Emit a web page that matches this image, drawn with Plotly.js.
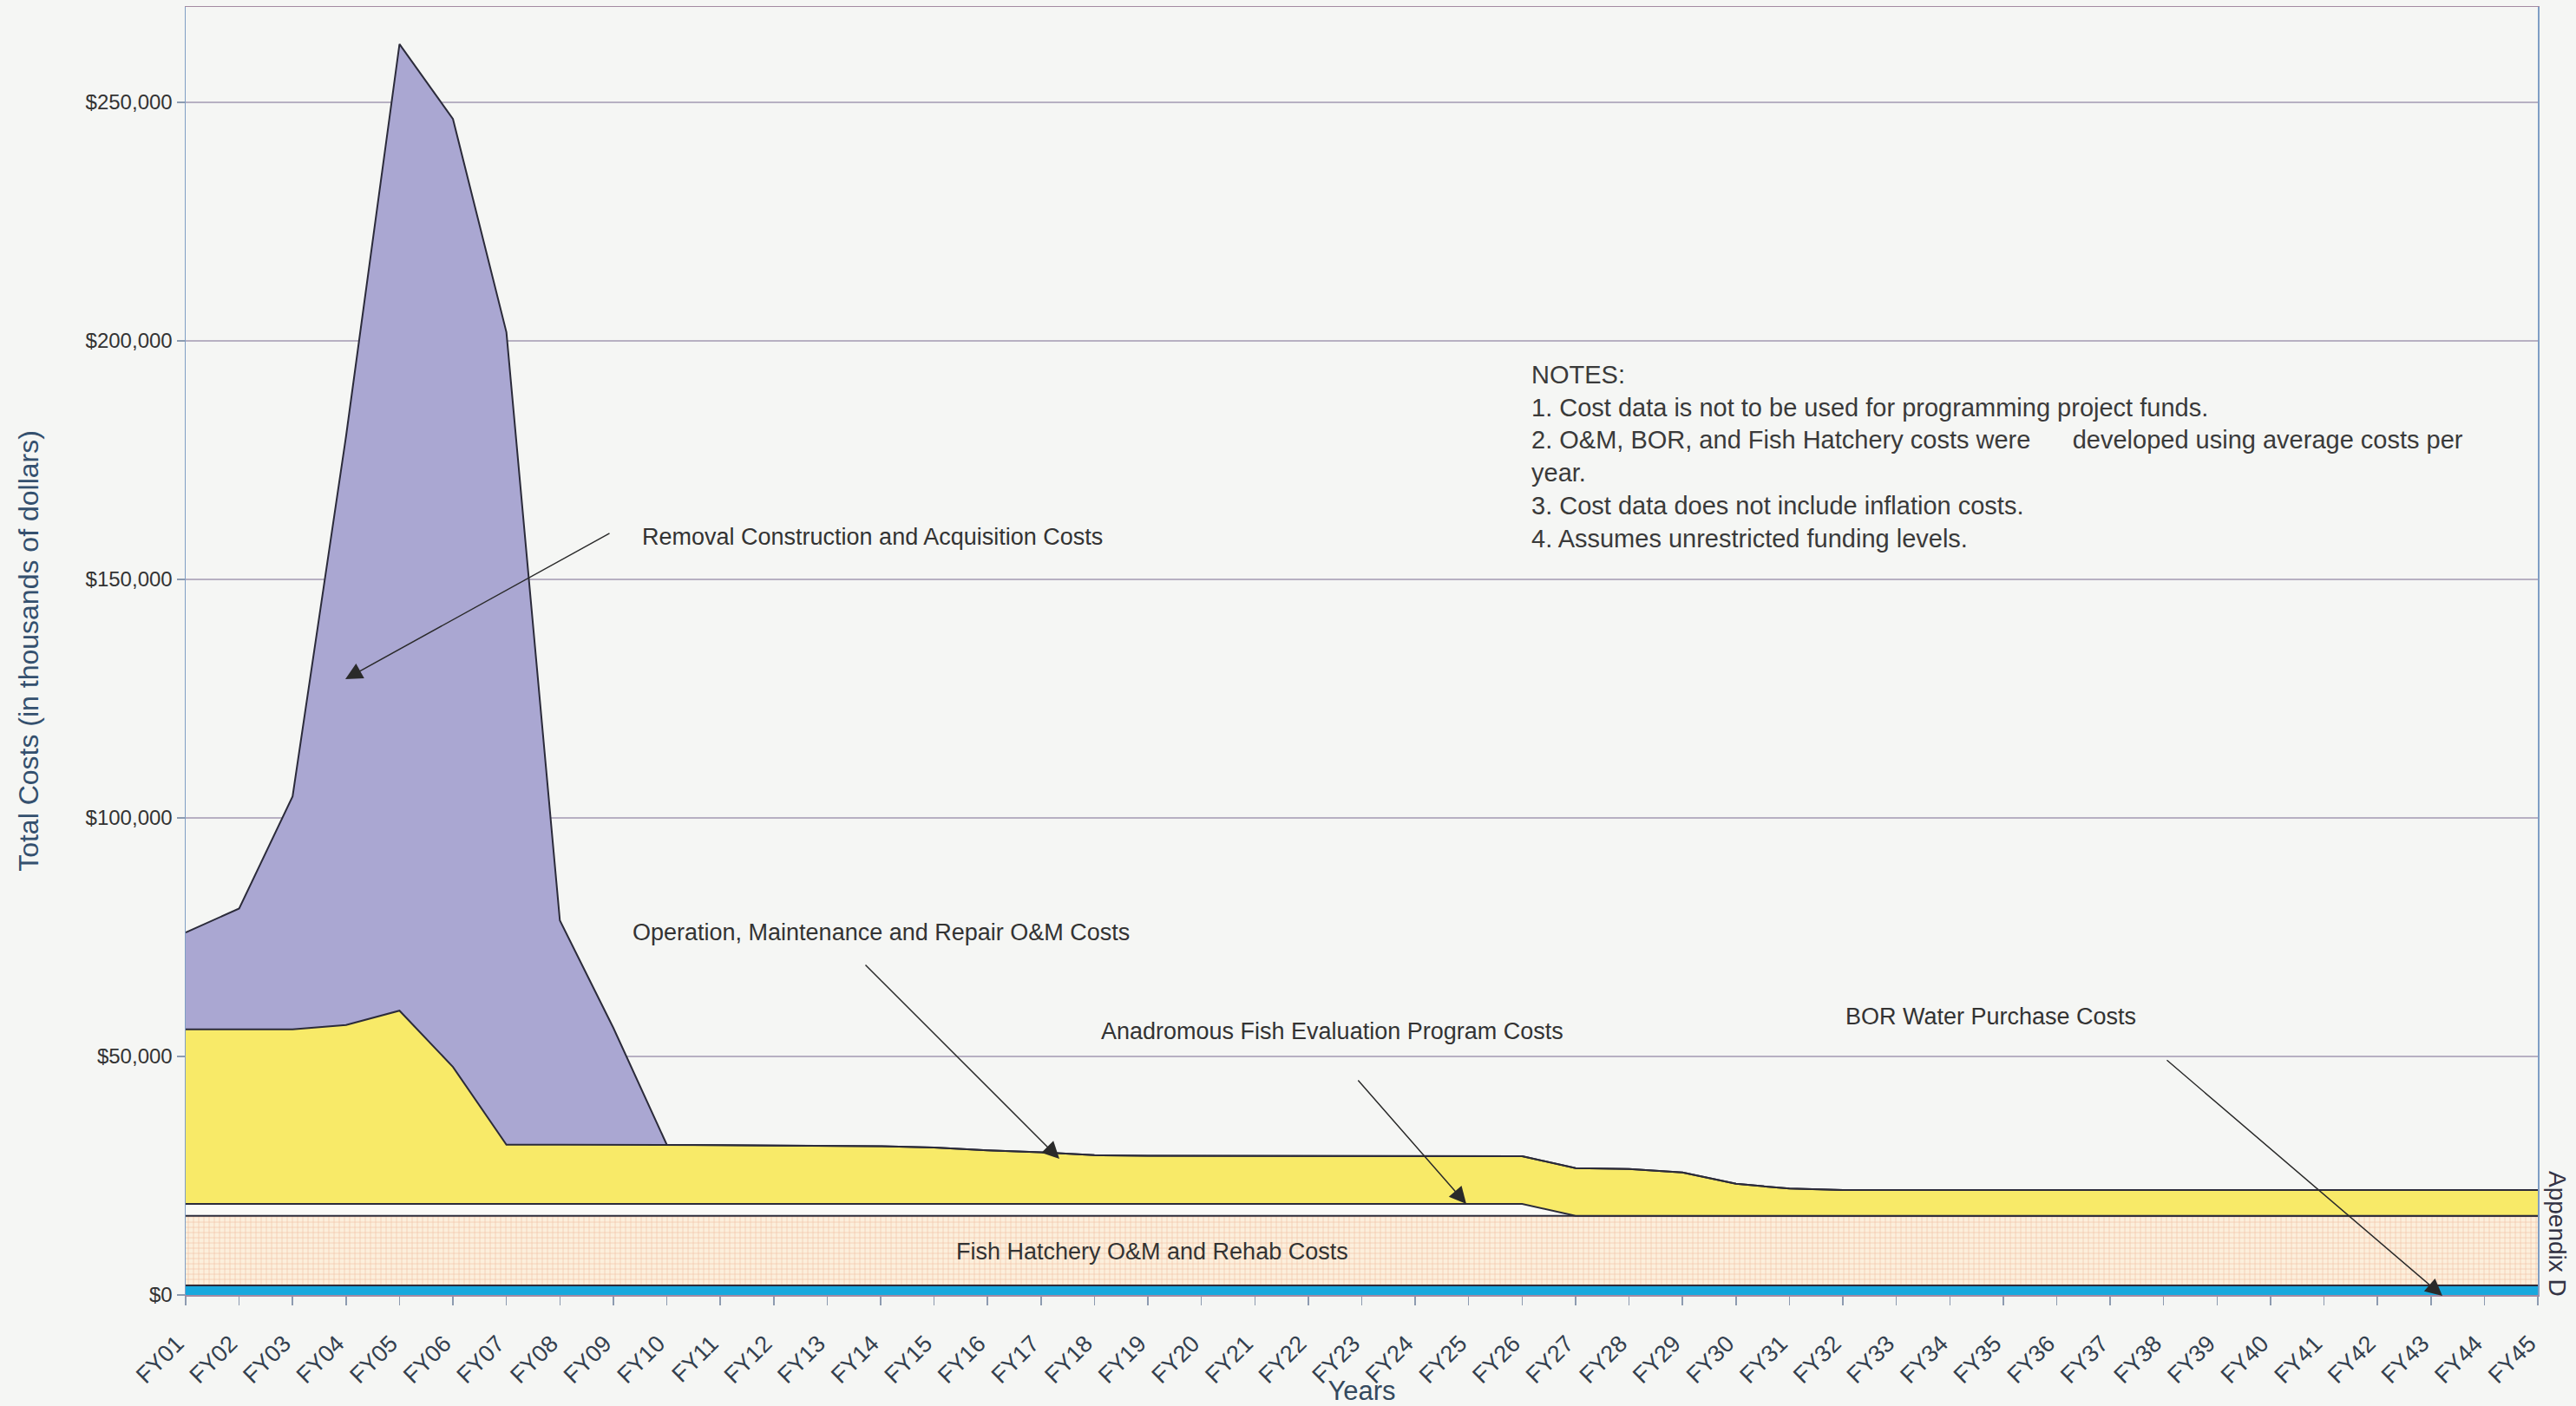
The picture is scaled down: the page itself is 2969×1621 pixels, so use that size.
<!DOCTYPE html>
<html>
<head>
<meta charset="utf-8">
<script src="https://cdn.plot.ly/plotly-3.0.1.min.js"></script>
<style>
  html, body { margin: 0; padding: 0; background: #F5F6F4; }
  #chart { width: 2969px; height: 1621px; }
</style>
</head>
<body>
<div id="chart"></div>
<script>
// ---- Data (thousands of dollars) ----
const years = ["FY01","FY02","FY03","FY04","FY05","FY06","FY07","FY08","FY09","FY10",
  "FY11","FY12","FY13","FY14","FY15","FY16","FY17","FY18","FY19","FY20",
  "FY21","FY22","FY23","FY24","FY25","FY26","FY27","FY28","FY29","FY30",
  "FY31","FY32","FY33","FY34","FY35","FY36","FY37","FY38","FY39","FY40",
  "FY41","FY42","FY43","FY44","FY45"];

const borWater = [2000,2000,2000,2000,2000,2000,2000,2000,2000,2000,
  2000,2000,2000,2000,2000,2000,2000,2000,2000,2000,
  2000,2000,2000,2000,2000,2000,2000,2000,2000,2000,
  2000,2000,2000,2000,2000,2000,2000,2000,2000,2000,
  2000,2000,2000,2000,2000];

const fishHatchery = [14600,14600,14600,14600,14600,14600,14600,14600,14600,14600,
  14600,14600,14600,14600,14600,14600,14600,14600,14600,14600,
  14600,14600,14600,14600,14600,14600,14600,14600,14600,14600,
  14600,14600,14600,14600,14600,14600,14600,14600,14600,14600,
  14600,14600,14600,14600,14600];

const anadromousEval = [2500,2500,2500,2500,2500,2500,2500,2500,2500,2500,
  2500,2500,2500,2500,2500,2500,2500,2500,2500,2500,
  2500,2500,2500,2500,2500,2500,0,0,0,0,
  0,0,0,0,0,0,0,0,0,0,
  0,0,0,0,0];

const omRepair = [36600,36600,36600,37500,40500,28700,12400,12400,12400,12400,
  12300,12200,12200,12100,11800,11200,10800,10200,10100,10100,
  10100,10100,10000,10000,10000,10000,10000,9800,9100,6700,
  5700,5400,5400,5400,5400,5400,5400,5400,5400,5400,
  5400,5400,5400,5400,5400];

const removalConstruction = [20300,25300,48800,123400,202600,198700,170300,47000,24500,0,
  0,0,0,0,0,0,0,0,0,0,
  0,0,0,0,0,0,0,0,0,0,
  0,0,0,0,0,0,0,0,0,0,
  0,0,0,0,0];

const yTickVals = [0, 50000, 100000, 150000, 200000, 250000];
const yTickText = ["$0", "$50,000", "$100,000", "$150,000", "$200,000", "$250,000"];

// ---- Plot ----
const FONT = "Liberation Sans, Arial, Helvetica, sans-serif";
const edge = "#2b2b3a";

function area(name, y, fill, extra) {
  return Object.assign({
    type: "scatter", mode: "lines", name: name,
    x: years, y: y, stackgroup: "costs",
    line: { color: edge, width: 2, shape: "linear" },
    fillcolor: fill, hoverinfo: "skip"
  }, extra || {});
}

const traces = [
  area("BOR Water Purchase Costs", borWater, "#18A8DD"),
  area("Fish Hatchery O&M and Rehab Costs", fishHatchery, "#FBEAD3",
       { fillpattern: { shape: "+", bgcolor: "#FCEFDC", fgcolor: "#F0C2A4", size: 6, solidity: 0.2 } }),
  area("Anadromous Fish Evaluation Program Costs", anadromousEval, "#FAFAF7"),
  area("Operation, Maintenance and Repair O&M Costs", omRepair, "#F8EA68"),
  area("Removal Construction and Acquisition Costs", removalConstruction, "#AAA7D2")
];

// helpers: convert reference pixel positions into paper coordinates
const L = 214, R = 2925, T = 8, B = 1493;
const px = x => (x - L) / (R - L);
const py = y => (B - y) / (B - T);

const labelFont = { family: FONT, size: 27, color: "#333333" };

function label(text, cx, cy) {
  return { xref: "paper", yref: "paper", x: px(cx), y: py(cy), text: text,
           showarrow: false, xanchor: "center", yanchor: "middle", font: labelFont };
}
function arrow(hx, hy, tx, ty) {
  return { xref: "paper", yref: "paper", x: px(hx), y: py(hy), text: "",
           showarrow: true, axref: "pixel", ayref: "pixel", ax: tx - hx, ay: ty - hy,
           arrowhead: 2, arrowsize: 2.6, arrowwidth: 1.5, arrowcolor: "#2a2a2a", standoff: 0 };
}

const notes = "NOTES:<br>1. Cost data is not to be used for programming project funds.<br>" +
  "2. O&amp;M, BOR, and Fish Hatchery costs were\u00A0\u00A0\u00A0\u00A0\u00A0 developed using average costs per<br>" +
  "year.<br>3. Cost data does not include inflation costs.<br>4. Assumes unrestricted funding levels.";

const layout = {
  width: 2969, height: 1621,
  paper_bgcolor: "#F5F6F4", plot_bgcolor: "#F5F6F4",
  margin: { l: L, r: 2969 - R, t: T, b: 1621 - B },
  showlegend: false,
  font: { family: FONT, color: "#333333" },
  xaxis: {
    type: "category", range: [0, years.length - 1],
    tickangle: -45, tickfont: { family: FONT, size: 27, color: "#33404f" },
    ticks: "outside", ticklen: 10, tickcolor: "#8d9bb0", tickwidth: 1.5,
    ticklabelstandoff: 18, ticklabelshift: -10,
    showgrid: false, zeroline: false,
    showline: true, mirror: true, linecolor: "#a48aa2", linewidth: 1.5,
    title: { text: "Years", font: { family: FONT, size: 31, color: "#34495e" }, standoff: 0 }
  },
  yaxis: {
    range: [0, 270000], tickvals: yTickVals, ticktext: yTickText,
    tickfont: { family: FONT, size: 24, color: "#333333" },
    ticks: "outside", ticklen: 9, tickcolor: "#8d9bb0", tickwidth: 1.5,
    showgrid: true, gridcolor: "#B7B0C2", gridwidth: 1.5,
    zeroline: false,
    showline: true, mirror: true, linecolor: "#7f9ec4", linewidth: 1.5,
    title: { text: "Total Costs (in thousands of dollars)",
             font: { family: FONT, size: 32, color: "#34506e" }, standoff: 44 }
  },
  annotations: [
    label("Removal Construction and Acquisition Costs", 1005, 619),
    label("Operation, Maintenance and Repair O&amp;M Costs", 1015, 1075),
    label("Anadromous Fish Evaluation Program Costs", 1535, 1189),
    label("BOR Water Purchase Costs", 2294, 1172),
    label("Fish Hatchery O&amp;M and Rehab Costs", 1328, 1443),
    arrow(398, 783, 704, 614),
    arrow(1221, 1336, 996, 1111),
    arrow(1690, 1388, 1564, 1244),
    arrow(2815, 1494, 2496, 1221),
    { xref: "paper", yref: "paper", x: px(1763), y: py(414), text: notes,
      showarrow: false, xanchor: "left", yanchor: "top", align: "left",
      font: { family: FONT, size: 29, color: "#3a3a3a" } },
    { xref: "paper", yref: "paper", x: px(2948), y: py(1422), text: "Appendix D",
      showarrow: false, textangle: 90, xanchor: "center", yanchor: "middle",
      font: { family: FONT, size: 28, color: "#333344" } }
  ]
};

Plotly.newPlot("chart", traces, layout, { staticPlot: true, displayModeBar: false });
</script>
</body>
</html>
